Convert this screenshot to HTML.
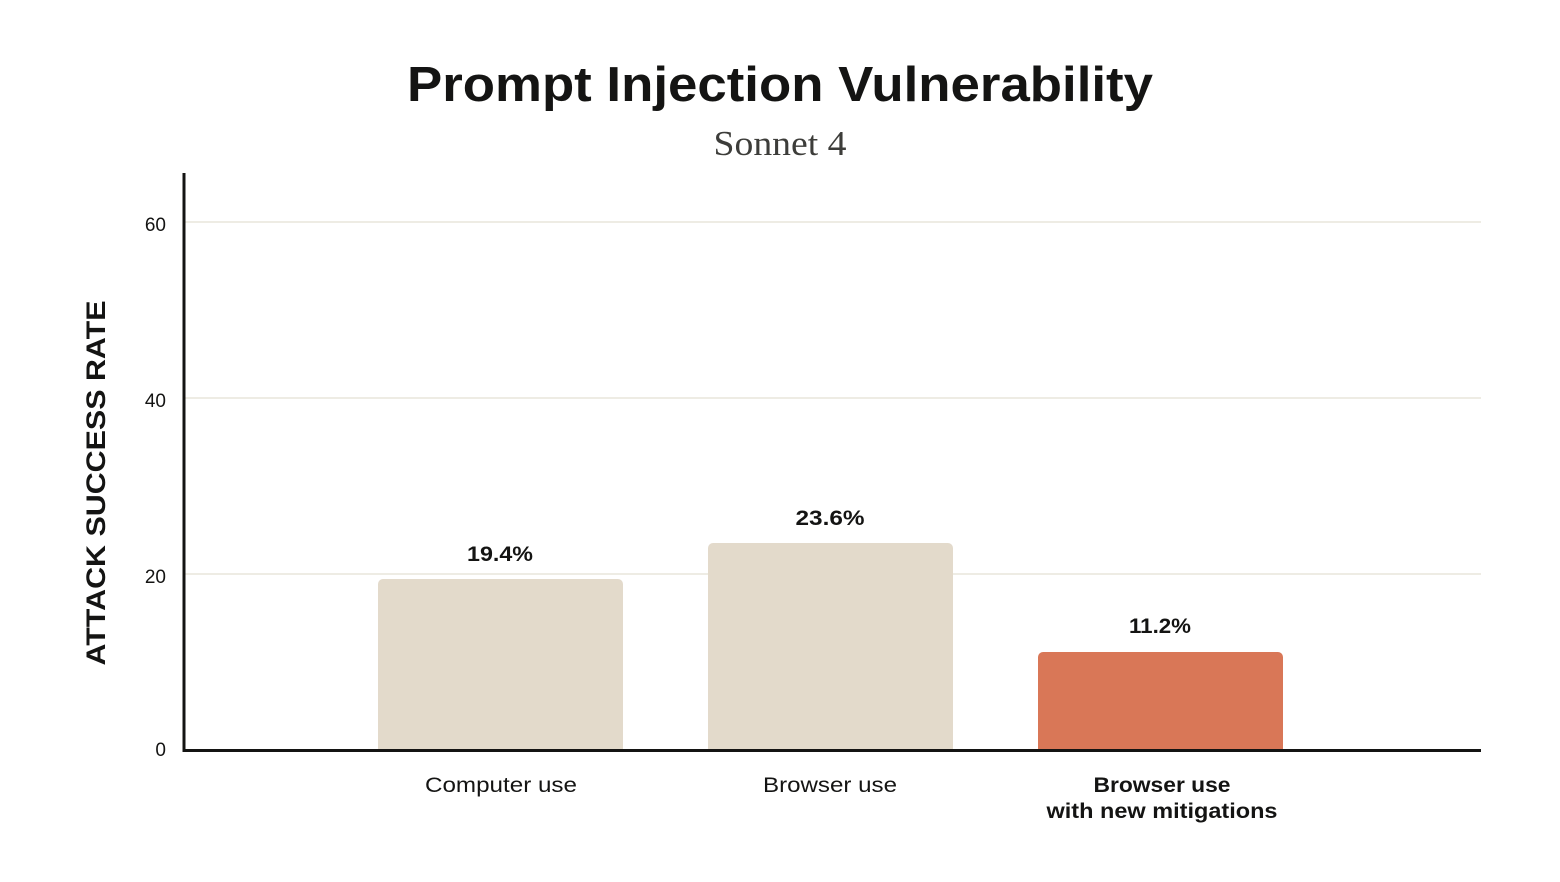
<!DOCTYPE html>
<html><head><meta charset="utf-8"><style>
html,body{margin:0;padding:0;background:#fff;}
body{width:1560px;height:877px;overflow:hidden;}
</style></head><body>
<svg width="1560" height="877" viewBox="0 0 1560 877" xmlns="http://www.w3.org/2000/svg">
<rect width="1560" height="877" fill="#fff"/>
<text x="780" y="101" text-anchor="middle" font-family="Liberation Sans, sans-serif" font-weight="bold" font-size="49" fill="#141413" textLength="746" lengthAdjust="spacingAndGlyphs">Prompt Injection Vulnerability</text>
<text x="780" y="155" text-anchor="middle" font-family="Liberation Serif, serif" font-size="35" fill="#3d3d3a" textLength="133" lengthAdjust="spacingAndGlyphs">Sonnet 4</text>
<g stroke="#e8e6dc" stroke-width="1.5">
<line x1="184" y1="222" x2="1481" y2="222"/>
<line x1="184" y1="398" x2="1481" y2="398"/>
<line x1="184" y1="574" x2="1481" y2="574"/>
</g>
<g font-family="Liberation Sans, sans-serif" font-size="19" fill="#141413" text-anchor="end">
<text x="166" y="231">60</text>
<text x="166" y="407">40</text>
<text x="166" y="583">20</text>
<text x="166" y="756">0</text>
</g>
<text transform="translate(105,483) rotate(-90)" text-anchor="middle" font-family="Liberation Sans, sans-serif" font-weight="bold" font-size="27" fill="#141413" textLength="365" lengthAdjust="spacingAndGlyphs">ATTACK SUCCESS RATE</text>
<path d="M378,750 V584 a5,5 0 0 1 5,-5 H618 a5,5 0 0 1 5,5 V750 Z" fill="#e3dacb"/>
<path d="M708,750 V548 a5,5 0 0 1 5,-5 H948 a5,5 0 0 1 5,5 V750 Z" fill="#e3dacb"/>
<path d="M1038,750 V657 a5,5 0 0 1 5,-5 H1278 a5,5 0 0 1 5,5 V750 Z" fill="#d97757"/>
<g font-family="Liberation Sans, sans-serif" font-weight="bold" font-size="21" fill="#141413" text-anchor="middle">
<text x="500" y="561" textLength="66" lengthAdjust="spacingAndGlyphs">19.4%</text>
<text x="830" y="525" textLength="69" lengthAdjust="spacingAndGlyphs">23.6%</text>
<text x="1160" y="633" textLength="62" lengthAdjust="spacingAndGlyphs">11.2%</text>
</g>
<line x1="184" y1="173" x2="184" y2="752" stroke="#141413" stroke-width="3"/>
<line x1="183" y1="750.5" x2="1481" y2="750.5" stroke="#141413" stroke-width="3"/>
<g font-family="Liberation Sans, sans-serif" font-size="21" fill="#141413" text-anchor="middle">
<text x="501" y="792" textLength="152" lengthAdjust="spacingAndGlyphs">Computer use</text>
<text x="830" y="792" textLength="134" lengthAdjust="spacingAndGlyphs">Browser use</text>
<text x="1162" y="792" font-weight="bold" textLength="137" lengthAdjust="spacingAndGlyphs">Browser use</text>
<text x="1162" y="818" font-weight="bold" textLength="231" lengthAdjust="spacingAndGlyphs">with new mitigations</text>
</g>
</svg>
</body></html>
